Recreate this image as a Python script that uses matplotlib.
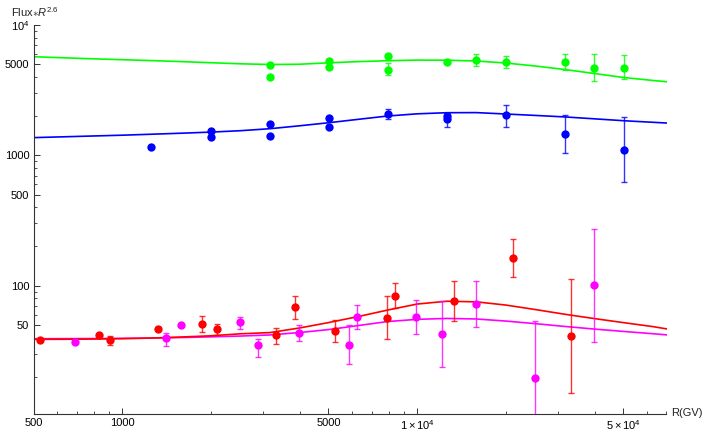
import matplotlib
matplotlib.use("Agg")
import matplotlib.pyplot as plt
import numpy as np
from matplotlib.ticker import FixedLocator, FixedFormatter, NullFormatter

plt.rcParams['font.family'] = ['Liberation Sans', 'DejaVu Sans']
plt.rcParams['mathtext.fontset'] = 'custom'
plt.rcParams['mathtext.rm'] = 'Liberation Sans'
plt.rcParams['mathtext.it'] = 'Liberation Sans:italic'

# ---- data points (R in GV, Flux*R^2.6, error bar ends) ----
green_x = [3162, 3162, 5012, 5012, 7943, 7943, 12589, 15849, 19953, 31623, 39811, 50119]
green_y = [4930, 3990, 5290, 4730, 5750, 4540, 5220, 5420, 5200, 5200, 4677, 4677]
green_lo = [4930, 3990, 5290, 4730, 5750, 4156, 5220, 4870, 4700, 4490, 3717, 3831]
green_hi = [4930, 3990, 5290, 4730, 5750, 5082, 5220, 6025, 5810, 5990, 5957, 5852]

blue_x = [1250, 1995, 1995, 3162, 3162, 5012, 5012, 7943, 12589, 12589, 19953, 31623, 50119]
blue_y = [1150, 1545, 1389, 1729, 1399, 1923, 1658, 2086, 1992, 1909, 2028, 1457, 1098]
blue_lo = [1150, 1545, 1389, 1729, 1399, 1923, 1658, 1899, 1992, 1658, 1658, 1047, 620]
blue_hi = [1150, 1545, 1389, 1729, 1399, 1923, 1658, 2278, 1992, 2100, 2418, 2038, 1978]

red_x = [527, 836, 910, 1324, 1866, 2100, 3330, 3845, 5280, 7880, 8380, 13290, 21040, 33270]
red_y = [38.2, 41.6, 38.2, 46.5, 50.5, 46.2, 41.6, 68.6, 44.6, 56.7, 83.2, 75.8, 163, 40.8]
red_lo = [38.2, 41.6, 35.0, 46.5, 44.1, 41.9, 35.6, 55.4, 36.9, 38.9, 67.0, 53.5, 116.5, 15.0]
red_hi = [38.2, 41.6, 41.1, 46.5, 58.1, 50.8, 47.3, 83.6, 54.5, 83.2, 104.2, 109, 226.5, 111.8]

mag_x = [690, 1403, 1582, 2500, 2890, 3960, 5890, 6260, 9930, 12130, 15780, 25000, 39700]
mag_y = [36.7, 39.4, 49.9, 52.6, 35.0, 43.5, 35.2, 57.7, 57.4, 42.6, 72.3, 19.6, 100.5]
mag_lo = [36.7, 34.6, 49.9, 46.9, 28.2, 37.4, 24.9, 46.7, 42.8, 23.8, 47.8, 5.0, 37.1]
mag_hi = [36.7, 43.5, 49.9, 57.5, 38.7, 50.1, 50.1, 70.6, 77.9, 75.8, 109, 53.5, 272]

# ---- model curves ----
curve_R = [500, 631, 794, 1000, 1259, 1585, 1995, 2512, 3162, 3981, 5012, 6310,
           7943, 10000, 12589, 15849, 19953, 25119, 31623, 39811, 50119, 63096, 70000]
green_curve = [5710, 5602, 5503, 5416, 5331, 5237, 5137, 5038, 4977, 4998, 5128, 5237,
               5321, 5378, 5369, 5293, 5110, 4846, 4555, 4245, 3955, 3751, 3672]
blue_curve = [1367, 1387, 1407, 1427, 1452, 1478, 1507, 1545, 1600, 1684, 1779, 1889,
              2003, 2082, 2123, 2127, 2075, 2024, 1971, 1906, 1843, 1792, 1770]
red_curve = [38.72, 38.78, 38.92, 39.20, 39.62, 40.36, 41.22, 42.71, 43.63, 47.29, 52.11, 57.93,
             64.99, 72.27, 75.92, 75.12, 70.98, 65.58, 60.33, 55.91, 52.00, 48.46, 46.60]
mag_curve = [39.14, 39.20, 39.26, 39.40, 39.62, 39.97, 40.47, 41.04, 41.84, 43.66, 46.03, 49.41,
             53.04, 55.14, 56.02, 55.51, 53.49, 51.11, 48.64, 46.45, 44.52, 42.75, 41.92]

xmaj = [500, 1000, 5000, 10000, 50000]
xmaj_lab = ['500', '1000', '5000', r'$\mathregular{1\times10^{4}}$', r'$\mathregular{5\times10^{4}}$']
ymaj = [50, 100, 500, 1000, 5000, 10000]
ymaj_lab = ['50', '100', '500', '1000', '5000', r'$\mathregular{10^{4}}$']

GREEN = '#00ff00'
BLUE = '#0000ff'
RED = '#ff0000'
MAG = '#ff00ff'

fig = plt.figure(figsize=(7.11, 4.37), dpi=100)
ax = fig.add_axes([33.5/711, (437-414.3)/437, 633/711, 389.3/437])
ax.set_xscale('log')
ax.set_yscale('log')
ax.set_xlim(500, 70000)
ax.set_ylim(10.3, 10000)

ax.plot(curve_R, green_curve, color=GREEN, lw=1.2, zorder=2)
ax.plot(curve_R, blue_curve, color=BLUE, lw=1.2, zorder=2)
ax.plot(curve_R, mag_curve, color=MAG, lw=1.2, zorder=2)
ax.plot(curve_R, red_curve, color=RED, lw=1.2, zorder=2)

for xs, ys, lo, hi, c in [(green_x, green_y, green_lo, green_hi, GREEN),
                          (blue_x, blue_y, blue_lo, blue_hi, BLUE),
                          (red_x, red_y, red_lo, red_hi, RED),
                          (mag_x, mag_y, mag_lo, mag_hi, MAG)]:
    ys = np.array(ys)
    yerr = [ys - np.array(lo), np.array(hi) - ys]
    ax.errorbar(xs, ys, yerr=yerr, fmt='none', ecolor=c, elinewidth=1.0,
                capsize=2, capthick=1.0, alpha=0.8, zorder=3)
    ax.plot(xs, ys, 'o', color=c, ms=6, mec='none', zorder=4)

for s in ['top', 'right']:
    ax.spines[s].set_visible(False)
for s in ['left', 'bottom']:
    ax.spines[s].set_color('#333333')
    ax.spines[s].set_linewidth(0.8)

ax.xaxis.set_major_locator(FixedLocator(xmaj))
ax.xaxis.set_major_formatter(FixedFormatter(xmaj_lab))
ax.yaxis.set_major_locator(FixedLocator(ymaj))
ax.yaxis.set_major_formatter(FixedFormatter(ymaj_lab))
xmin = [m * d for d in [100, 1000, 10000] for m in range(2, 10)]
ymin = [m * d for d in [10, 100, 1000] for m in range(2, 10)]
ax.xaxis.set_minor_locator(FixedLocator([v for v in xmin if v not in xmaj and 500 <= v <= 70000]))
ax.yaxis.set_minor_locator(FixedLocator([v for v in ymin if v not in ymaj]))
ax.xaxis.set_minor_formatter(NullFormatter())
ax.yaxis.set_minor_formatter(NullFormatter())
ax.tick_params(which='major', direction='in', length=4, width=0.7, color='#333333',
               labelsize=8, pad=3)
ax.tick_params(which='minor', direction='in', length=2.4, width=0.6, color='#333333')

fig.text(11/711, (437-17.3)/437, r'Flux$\ast$$\mathit{R}^{2.6}$', fontsize=8,
         ha='left', va='baseline', color='#222222')
fig.text(671.5/711, (437-413)/437, 'R(GV)', fontsize=8, ha='left', va='center',
         color='#222222')

fig.savefig('out.png', dpi=100)
